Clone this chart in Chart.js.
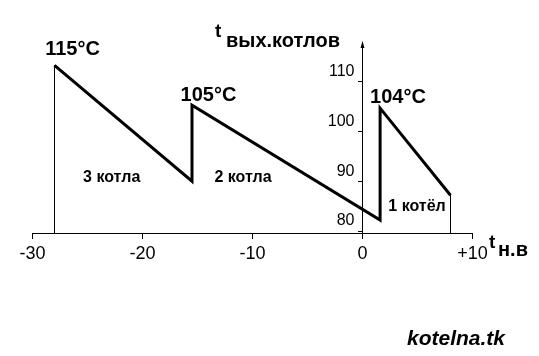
<!DOCTYPE html>
<html><head><meta charset="utf-8">
<script src="https://cdn.jsdelivr.net/npm/chart.js@4/dist/chart.umd.min.js"></script>
<style>html,body{margin:0;padding:0;background:#fff}#wrap{width:539px;height:356px}</style>
</head><body><div id="wrap"><canvas id="c" width="539" height="356"></canvas></div>
<script>
// ---- data ----
const xTicks = [-30, -20, -10, 0, 10];
const xTickLabels = ['-30', '-20', '-10', '0', '+10'];
const yTicks = [80, 90, 100, 110];
const sawX = [-28, -15.5, -15.5, 1.6, 1.6, 8];
const sawY = [113.3, 90, 105.3, 82.2, 104.7, 87.2];
const dropX = [-28, 8];
const dropY = [113.3, 87.2];
const peakLabels = ['115°C', '105°C', '104°C'];
const regionLabels = ['3 котла', '2 котла', '1 котёл'];
const xMin = -30, xMax = 10, yMin = 79.6, yMax = 118;

const FAM = '"Liberation Sans", Arial, sans-serif';

const sawData = sawX.map((x, i) => ({x: x, y: sawY[i]}));
const dropData = [];
dropX.forEach((x, i) => {
  if (i > 0) dropData.push({x: x, y: null});
  dropData.push({x: x, y: dropY[i]});
  dropData.push({x: x, y: yMin});
});

const annot = {
  id: 'annot',
  afterDraw(chart) {
    const {ctx, chartArea} = chart;
    const xs = chart.scales.x;
    ctx.save();
    ctx.fillStyle = '#000';
    // arrow head on y axis
    const ax = Math.round(xs.getPixelForValue(0) - 0.5) + 0.5;
    ctx.beginPath();
    ctx.moveTo(ax, chartArea.top - 1);
    ctx.lineTo(ax - 2, chartArea.top + 6);
    ctx.lineTo(ax + 2, chartArea.top + 6);
    ctx.closePath();
    ctx.fill();

    ctx.textBaseline = 'alphabetic';
    ctx.textAlign = 'center';
    ctx.font = 'bold 20px ' + FAM;
    ctx.fillText(peakLabels[0], 72.5, 55);
    ctx.fillText(peakLabels[1], 208.5, 101);
    ctx.fillText(peakLabels[2], 398, 103.3);

    ctx.font = 'bold 16px ' + FAM;
    ctx.fillText(regionLabels[0], 111.7, 181.7);
    ctx.fillText(regionLabels[1], 243, 181.7);
    ctx.fillText(regionLabels[2], 417, 210.7);

    ctx.textAlign = 'left';
    ctx.font = 'bold 19px ' + FAM;
    ctx.fillText('t', 215, 37);
    ctx.fillText('t', 489, 247.5);
    ctx.font = 'bold 20px ' + FAM;
    ctx.fillText('вых.котлов', 226, 47);
    ctx.fillText('н.в', 498, 256);

    ctx.font = 'italic bold 21px ' + FAM;
    ctx.fillText('kotelna.tk', 407, 345);
    ctx.restore();
  }
};

new Chart(document.getElementById('c'), {
  type: 'line',
  data: {
    datasets: [
      {data: sawData, borderColor: '#000', borderWidth: 3, pointRadius: 0, tension: 0,
       borderJoinStyle: 'miter', fill: false},
      {data: dropData, borderColor: '#000', borderWidth: 1, pointRadius: 0, tension: 0,
       spanGaps: false, fill: false}
    ]
  },
  options: {
    responsive: false, animation: false, devicePixelRatio: 1,
    events: [],
    plugins: {legend: {display: false}, tooltip: {enabled: false}, title: {display: false}},
    layout: {padding: {left: 32.5, right: 66.5, top: 42, bottom: 0}},
    scales: {
      x: {
        type: 'linear', position: 'bottom', min: xMin, max: xMax,
        afterBuildTicks: s => { s.ticks = xTicks.map(v => ({value: v})); },
        afterFit: s => { s.height = 356 - 233; },
        grid: {drawOnChartArea: false, drawTicks: true, tickLength: 6, color: '#000'},
        border: {color: '#000', width: 1},
        ticks: {
          callback: v => xTickLabels[xTicks.indexOf(v)],
          color: '#000', font: {family: FAM, size: 18}, padding: 4,
          maxRotation: 0, autoSkip: false
        }
      },
      y: {
        type: 'linear', position: {x: 0}, min: yMin, max: yMax,
        afterBuildTicks: s => { s.ticks = yTicks.map(v => ({value: v})); },
        grid: {drawOnChartArea: false, drawTicks: true, tickLength: 4, color: '#000'},
        border: {color: '#000', width: 1},
        ticks: {
          callback: v => String(v) + '\u2002',
          color: '#000', font: {family: FAM, size: 16}, padding: 4, labelOffset: -10, autoSkip: false
        }
      }
    }
  },
  plugins: [annot]
});
</script>
</body></html>
